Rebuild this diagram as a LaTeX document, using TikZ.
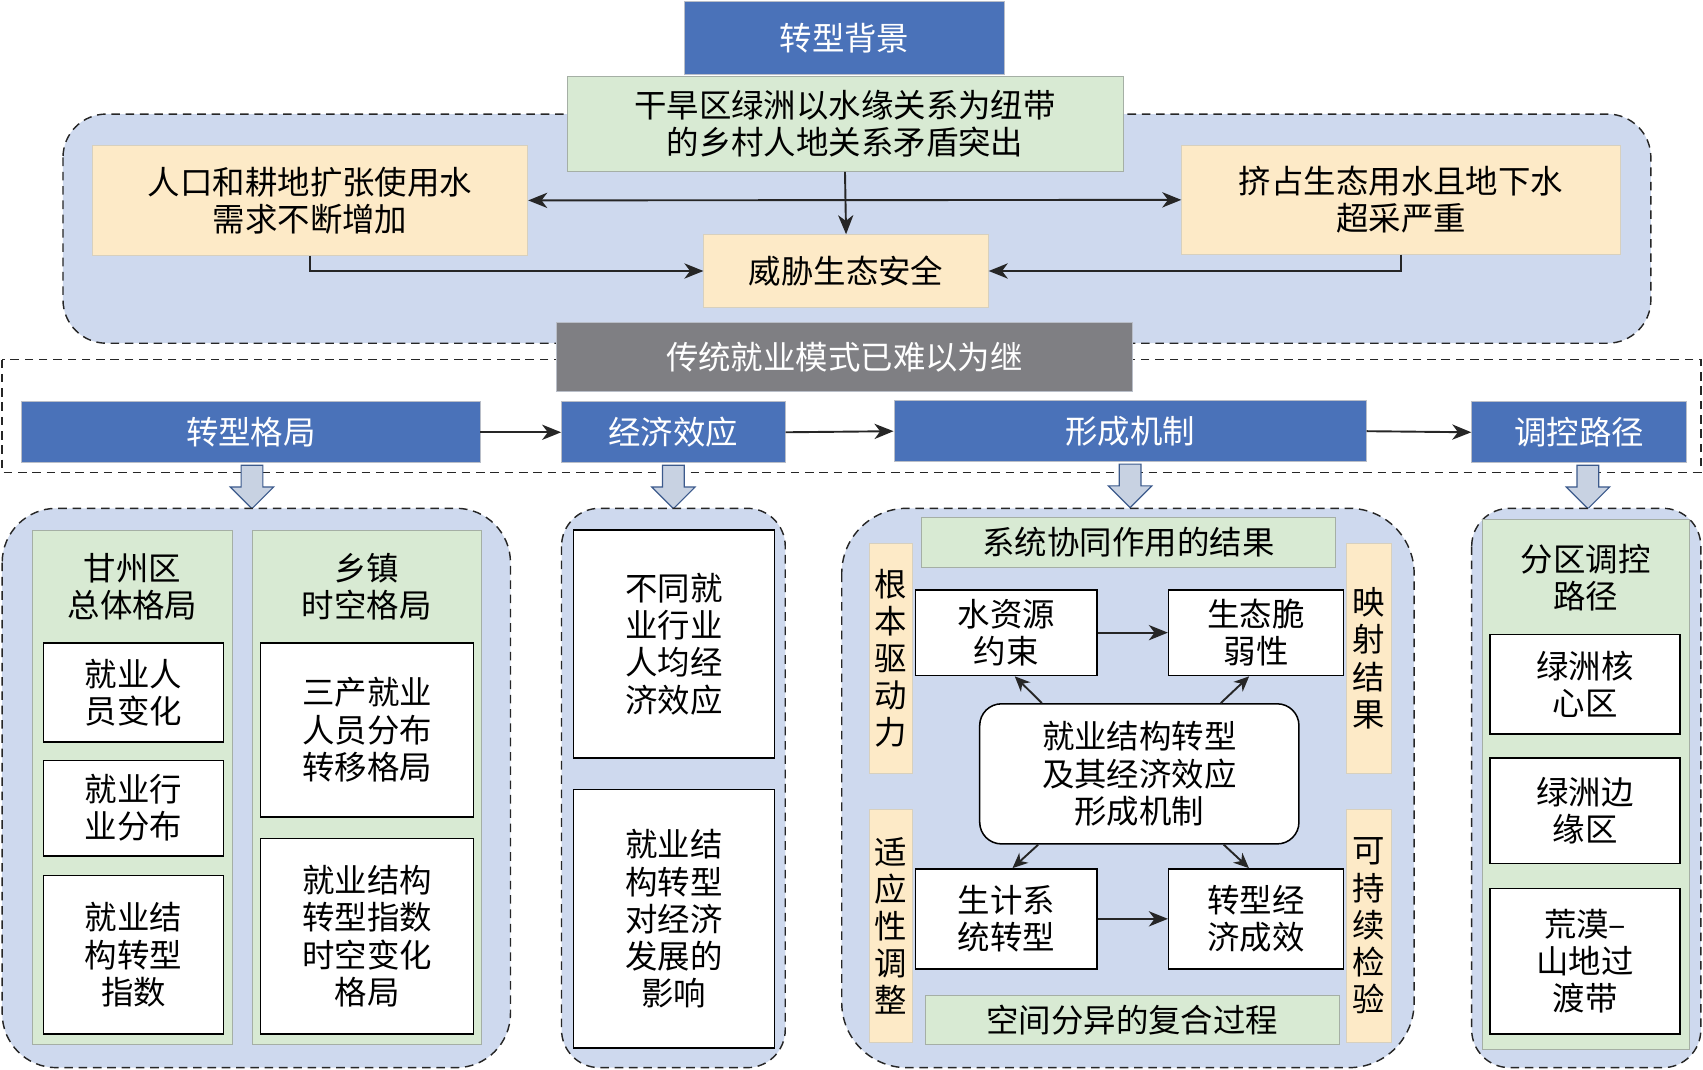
\documentclass[tikz,border=0pt]{standalone}
\usepackage{fontspec}
\setmainfont{Noto Sans CJK SC}
\usepackage{tikz}
\usetikzlibrary{positioning, arrows.meta, calc}
\definecolor{hd}{RGB}{74,114,185}
\definecolor{hdline}{RGB}{185,190,200}
\definecolor{bgblue}{RGB}{206,217,238}
\definecolor{gr}{RGB}{216,234,211}
\definecolor{grline}{RGB}{165,175,165}
\definecolor{ye}{RGB}{253,234,199}
\definecolor{yeline}{RGB}{215,208,190}
\definecolor{gy}{RGB}{127,127,131}
\definecolor{dwfill}{RGB}{200,210,226}
\definecolor{dwline}{RGB}{60,90,140}

\begin{document}
\begin{tikzpicture}[x=0.02cm, y=-0.02cm,
                    every node/.style = {text=black, align=center, inner sep=0pt,
                                         font=\fontsize{17}{19.5}\selectfont},
                    head/.style = {fill=hd, draw=hdline, text=white},
                    grbox/.style = {fill=gr, draw=grline},
                    yebox/.style = {fill=ye, draw=yeline},
                    wbox/.style = {fill=white, draw=black, line width=0.8pt},
                    dline/.style = {draw=black!85, dash pattern=on 4.5pt off 3pt, line width=0.75pt},
                    panel/.style = {dline, fill=bgblue},
                    arr/.style = {draw=black!85, line width=1pt, -{Stealth[length=10pt, width=8pt, inset=3pt]}},
                    down/.style = {fill=dwfill, draw=dwline, line width=0.6pt}]
    \useasboundingbox (0,0) rectangle (1568,985);

    % background
    \draw[panel, rounded corners=0.8cm] (58,105) rectangle (1520,316);

    \node (bg) [head, minimum width=5.9cm, minimum height=1.34cm] at (777.5,35) {转型背景};
    \node (core) [grbox, minimum width=10.24cm, minimum height=1.76cm] at (778,114)
          {干旱区绿洲以水缘关系为纽带\\的乡村人地关系矛盾突出};
    \node (need) [yebox, minimum width=8.02cm, minimum height=2.02cm] at (285.5,184.5)
          {人口和耕地扩张使用水\\需求不断增加};
    \node (over) [yebox, minimum width=8.08cm, minimum height=2cm] at (1290,184)
          {挤占生态用水且地下水\\超采严重};
    \node (risk) [yebox, minimum width=5.24cm, minimum height=1.34cm] at (779,249.5) {威胁生态安全};

    \draw[arr, {Stealth[length=10pt, width=8pt, inset=3pt]}-{Stealth[length=10pt, width=8pt, inset=3pt]}]
          (need.east) -- (over.west);
    \draw[arr] (core.south) -- (risk.north);
    \draw[arr] (need.south) |- (risk.west);
    \draw[arr] (over.south) |- (risk.east);

    % employment row
    \draw[dline] (2,331) rectangle (1566,435);
    \node (old) [fill=gy, draw=hdline, text=white, minimum width=10.62cm, minimum height=1.26cm]
          at (777.5,328.5) {传统就业模式已难以为继};

    \node (pat)  [head, minimum width=8.44cm, minimum height=1.12cm] at (231,398) {转型格局};
    \node (eff)  [head, minimum width=4.12cm, minimum height=1.12cm] at (620,398) {经济效应};
    \node (mech) [head, minimum width=8.7cm,  minimum height=1.12cm] at (1040.5,397) {形成机制};
    \node (ctl)  [head, minimum width=3.96cm, minimum height=1.12cm] at (1454,398) {调控路径};

    \draw[arr] (pat.east) -- (eff.west);
    \draw[arr] (eff.east) -- (mech.west);
    \draw[arr] (mech.east) -- (ctl.west);

    \foreach \n/\dx in {pat/1, eff/0, mech/0, ctl/8}
        \draw[down] ($(\n.south)+(\dx-10,2)$) -- ++(20,0) -- ++(0,20) -- ++(10,0)
                    -- ++(-20,20) -- ++(-20,-20) -- ++(10,0) -- cycle;

    % pattern
    \draw[panel, rounded corners=1cm] (2,468) rectangle (470,983);
    \node (g1) [grbox, minimum width=3.68cm, minimum height=9.48cm] at (122,725) {};
    \node (t1) at (122,540) {甘州区\\总体格局};
    \node (a1) [wbox, minimum width=3.32cm, minimum height=1.82cm] at (123,637.5) {就业人\\员变化};
    \node (a2) [wbox, minimum width=3.32cm, minimum height=1.76cm] at (123,744) {就业行\\业分布};
    \node (a3) [wbox, minimum width=3.32cm, minimum height=2.92cm] at (123,879) {就业结\\构转型\\指数};

    \node (g2) [grbox, minimum width=4.22cm, minimum height=9.48cm] at (337.5,725) {};
    \node (t2) at (337.5,540) {乡镇\\时空格局};
    \node (b1) [wbox, minimum width=3.92cm, minimum height=3.2cm] at (338,672) {三产就业\\人员分布\\转移格局};
    \node (b2) [wbox, minimum width=3.92cm, minimum height=3.6cm] at (338,862) {就业结构\\转型指数\\时空变化\\格局};

    % effect
    \draw[panel, rounded corners=0.7cm] (517,468) rectangle (723,983);
    \node (c1) [wbox, minimum width=3.7cm, minimum height=4.2cm] at (620.5,593) {不同就\\业行业\\人均经\\济效应};
    \node (c2) [wbox, minimum width=3.7cm, minimum height=4.76cm] at (620.5,846) {就业结\\构转型\\对经济\\发展的\\影响};

    % mechanism
    \draw[panel, rounded corners=1.2cm] (775,468) rectangle (1302,983);
    \node (syn)  [grbox, minimum width=7.64cm, minimum height=0.92cm] at (1039,499) {系统协同作用的结果};
    \node (sp)   [grbox, minimum width=7.62cm, minimum height=0.92cm] at (1042.5,939) {空间分异的复合过程};
    \node (dr)   [yebox, minimum width=0.8cm, minimum height=4.24cm] at (820,606) {根\\本\\驱\\动\\力};
    \node (ad)   [yebox, minimum width=0.8cm, minimum height=4.3cm] at (820,852.5) {适\\应\\性\\调\\整};
    \node (mp)   [yebox, minimum width=0.82cm, minimum height=4.24cm] at (1260.5,606) {映\\射\\结\\果};
    \node (su)   [yebox, minimum width=0.82cm, minimum height=4.3cm] at (1260.5,852.5) {可\\持\\续\\检\\验};
    \node (water)[wbox, minimum width=3.34cm, minimum height=1.58cm] at (926.5,582.5) {水资源\\约束};
    \node (eco)  [wbox, minimum width=3.22cm, minimum height=1.58cm] at (1156.5,582.5) {生态脆\\弱性};
    \node (ctr)  [wbox, rounded corners=0.4cm, minimum width=5.88cm, minimum height=2.58cm] at (1049,712.5)
          {就业结构转型\\及其经济效应\\形成机制};
    \node (live) [wbox, minimum width=3.34cm, minimum height=1.84cm] at (926.5,846) {生计系\\统转型};
    \node (gain) [wbox, minimum width=3.22cm, minimum height=1.84cm] at (1156.5,846) {转型经\\济成效};

    \draw[arr] (water.east) -- (eco.west);
    \draw[arr] (live.east) -- (gain.west);
    \draw[arr, -{Stealth[length=8pt, width=7pt, inset=2.5pt]}] (ctr.144) -- (water.-79);
    \draw[arr, -{Stealth[length=8pt, width=7pt, inset=2.5pt]}] (ctr.41) -- (eco.-99);
    \draw[arr, -{Stealth[length=8pt, width=7pt, inset=2.5pt]}] (ctr.-145) -- (live.83);
    \draw[arr, -{Stealth[length=8pt, width=7pt, inset=2.5pt]}] (ctr.-40) -- (gain.98);

    % regulation
    \draw[panel, rounded corners=0.7cm] (1355,468) rectangle (1566,983);
    \node (g4) [grbox, minimum width=3.8cm, minimum height=9.76cm] at (1460,722) {};
    \node (t4) at (1460,532) {分区调控\\路径};
    \node (z1) [wbox, minimum width=3.5cm, minimum height=1.84cm] at (1459.5,630) {绿洲核\\心区};
    \node (z2) [wbox, minimum width=3.5cm, minimum height=1.94cm] at (1459.5,746.5) {绿洲边\\缘区};
    \node (z3) [wbox, minimum width=3.5cm, minimum height=2.68cm] at (1459.5,885) {荒漠–\\山地过\\渡带};
\end{tikzpicture}
\end{document}
